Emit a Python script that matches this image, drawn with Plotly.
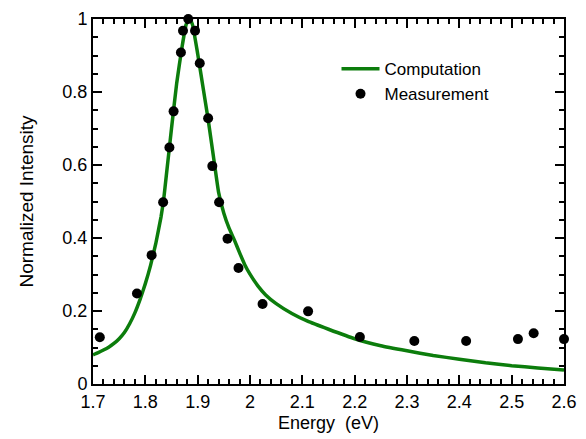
import plotly.graph_objects as go

# Computation curve
comp_energy = [1.70, 1.71, 1.72, 1.73, 1.74, 1.75, 1.76, 1.77, 1.78, 1.79, 1.80, 1.81, 1.82,
               1.83, 1.835, 1.84, 1.85, 1.86, 1.87, 1.878, 1.885, 1.89, 1.90, 1.91, 1.92,
               1.93, 1.94, 1.95, 1.96, 1.97, 1.98, 1.99, 2.00, 2.015, 2.03, 2.05, 2.08,
               2.11, 2.15, 2.20, 2.25, 2.30, 2.35, 2.40, 2.45, 2.50, 2.55, 2.60]
comp_intensity = [0.080, 0.086, 0.093, 0.101, 0.111, 0.124, 0.141, 0.165, 0.195, 0.232, 0.275,
                  0.325, 0.385, 0.458, 0.505, 0.570, 0.700, 0.825, 0.922, 0.985, 1.000, 0.985,
                  0.905, 0.815, 0.725, 0.625, 0.525, 0.468, 0.427, 0.395, 0.360, 0.327, 0.301,
                  0.269, 0.244, 0.220, 0.193, 0.172, 0.150, 0.124, 0.105, 0.091, 0.078, 0.068,
                  0.058, 0.050, 0.044, 0.038]

# Measurement points
meas_energy = [1.713, 1.784, 1.812, 1.834, 1.846, 1.854, 1.868, 1.872, 1.882, 1.895, 1.904,
               1.920, 1.928, 1.941, 1.957, 1.978, 2.024, 2.111, 2.210, 2.314, 2.413, 2.512,
               2.542, 2.600]
meas_intensity = [0.128, 0.248, 0.353, 0.498, 0.648, 0.747, 0.908, 0.968, 1.000, 0.968, 0.879,
                  0.728, 0.597, 0.498, 0.398, 0.318, 0.219, 0.199, 0.129, 0.118, 0.118, 0.123,
                  0.139, 0.123]

x_range = [1.7, 2.6]
y_range = [0, 1]

FONT = "Liberation Sans, Arial, sans-serif"

fig = go.Figure()
fig.add_trace(go.Scatter(
    x=comp_energy, y=comp_intensity, mode="lines", name="Computation",
    line=dict(color="#0c7d0c", width=3.5, shape="spline", smoothing=0.4),
    cliponaxis=False))
fig.add_trace(go.Scatter(
    x=meas_energy, y=meas_intensity, mode="markers", name="Measurement",
    marker=dict(color="black", size=10), cliponaxis=False))

axis_common = dict(
    showline=True, linecolor="black", linewidth=2, mirror="allticks",
    ticks="inside", ticklen=9, tickwidth=2, tickcolor="black",
    showgrid=False, zeroline=False, tickmode="linear",
    tickfont=dict(family=FONT, size=18, color="black"),
)

fig.update_xaxes(
    range=x_range, tick0=1.7, dtick=0.1,
    minor=dict(ticks="inside", ticklen=5, tickwidth=1.5, tickcolor="black", dtick=0.02,
               tick0=1.7, showgrid=False),
    title=dict(text="Energy  (eV)", font=dict(family=FONT, size=18, color="black"), standoff=6),
    **axis_common)
fig.update_yaxes(
    range=y_range, tick0=0, dtick=0.2,
    minor=dict(ticks="inside", ticklen=5, tickwidth=1.5, tickcolor="black", dtick=0.05,
               tick0=0, showgrid=False),
    title=dict(text="Normalized Intensity", font=dict(family=FONT, size=19, color="black"),
               standoff=24),
    **axis_common)

fig.update_layout(
    width=586, height=439,
    margin=dict(l=93, r=21, t=9, b=55),
    paper_bgcolor="white", plot_bgcolor="white",
    showlegend=True,
    legend=dict(x=0.517, y=0.912, xanchor="left", yanchor="top",
                bgcolor="rgba(0,0,0,0)", borderwidth=0, itemwidth=38,
                font=dict(family=FONT, size=17, color="black")),
)

fig.write_html("out.html")
